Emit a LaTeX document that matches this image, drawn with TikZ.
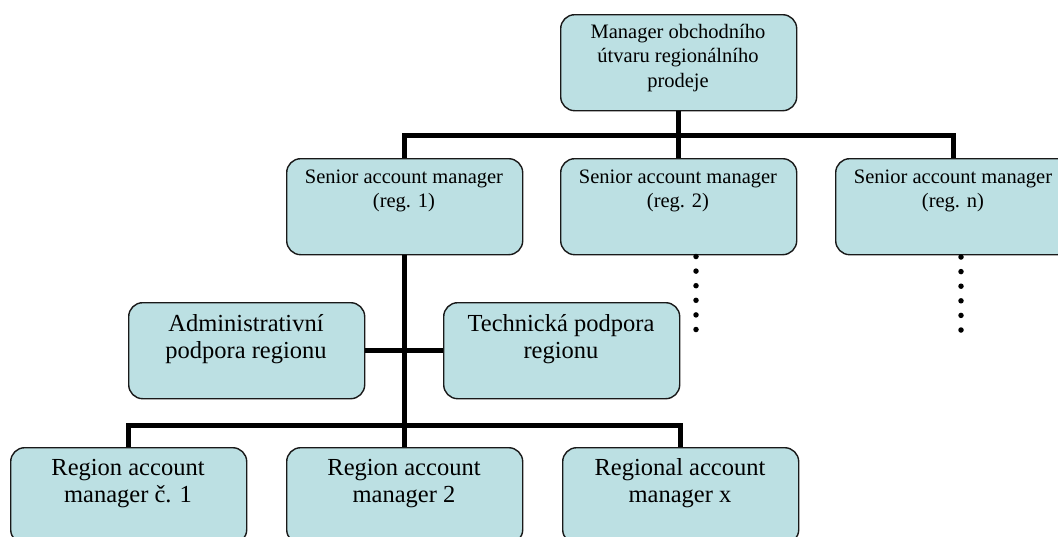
\documentclass[tikz,border=0pt]{standalone}
\usepackage{fontspec}
\setmainfont{Liberation Serif}
\definecolor{boxfill}{RGB}{188,224,227}
\begin{document}
\begin{tikzpicture}[x=1pt,y=-1pt,
  orgbox/.style={draw=black!90, line width=1.4pt, rounded corners=14pt, fill=boxfill,
    minimum width=236pt, minimum height=96pt, inner sep=0pt, anchor=north west},
  bar/.style={line width=5pt},
  small/.style={font=\fontsize{20.5}{24.5}\selectfont, anchor=base, inner sep=0pt},
  large/.style={font=\fontsize{24.5}{28}\selectfont, anchor=base, inner sep=0pt},
  dotmark/.style={circle, fill=black, minimum size=5.5pt, inner sep=0pt}]
\useasboundingbox (0,0) rectangle (1058,536);
\clip (0,0) rectangle (1058,536);

% boxes
\node[orgbox] (top) at (560,14) {};
\node[orgbox] (s1) at (286,158) {};
\node[orgbox] (s2) at (560,158) {};
\node[orgbox] (s3) at (835,158) {};
\node[orgbox] (adm) at (128,302) {};
\node[orgbox] (tech) at (443,302) {};
\node[orgbox] (b1) at (10,447) {};
\node[orgbox] (b2) at (286,447) {};
\node[orgbox] (b3) at (562,447) {};

% connectors
\coordinate (busA) at (0,135);
\coordinate (busB) at (0,425);
\draw[bar] (top.south) -- (s2.north);
\draw[bar] (s1.north) -- (s1.north |- busA) -- (s3.north |- busA) -- (s3.north);
\draw[bar] (s1.south) -- (b2.north);
\draw[bar] (b1.north) -- (b1.north |- busB) -- (b3.north |- busB) -- (b3.north);
\draw[bar] (adm.east) -- (tech.west);

% dotted continuations
\foreach \k in {0,...,5} {
  \node[dotmark] (dA\k) at (696,256.5+14.6*\k) {};
  \node[dotmark] (dB\k) at (961,257+14.6*\k) {};
}

% labels
\node[small] (t1) at (678,38) {Manager obchodního};
\node[small] (t2) at (678,62.5) {útvaru regionálního};
\node[small] (t3) at (678,87) {prodeje};

\node[small] (s1a) at (404,183) {Senior account manager};
\node[small] (s1b) at (404,207) {(reg. 1)};
\node[small] (s2a) at (678,183) {Senior account manager};
\node[small] (s2b) at (678,207) {(reg. 2)};
\node[small] (s3a) at (953,183) {Senior account manager};
\node[small] (s3b) at (953,207) {(reg. n)};

\node[large] (a1) at (246,331) {Administrativní};
\node[large] (a2) at (246,358) {podpora regionu};
\node[large] (c1) at (561,331) {Technická podpora};
\node[large] (c2) at (561,358) {regionu};

\node[large] (r1a) at (128,475) {Region account};
\node[large] (r1b) at (128,502) {manager č. 1};
\node[large] (r2a) at (404,475) {Region account};
\node[large] (r2b) at (404,502) {manager 2};
\node[large] (r3a) at (680,475) {Regional account};
\node[large] (r3b) at (680,502) {manager x};
\end{tikzpicture}
\end{document}
